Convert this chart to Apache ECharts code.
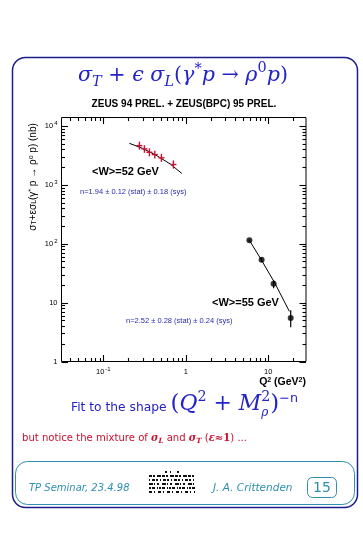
<!DOCTYPE html>
<html><head><meta charset="utf-8">
<script src="https://cdn.jsdelivr.net/npm/echarts@6/dist/echarts.min.js"></script>
<style>html,body{margin:0;padding:0;background:#fff}#c{width:363px;height:535px}</style>
</head><body><div id="c"></div>
<script>
// ---- data ----
const q2W52      = [0.274, 0.315, 0.362, 0.421, 0.506, 0.708];
const sigW52     = [4630, 4070, 3570, 3265, 2870, 2210];
const sigW52Lo   = [3950, 3500, 3050, 2800, 2450, 1880];
const sigW52Hi   = [5400, 4700, 4150, 3800, 3350, 2600];
const fitQ2W52   = [0.207, 0.30, 0.45, 0.65, 0.895];
const fitSigW52  = [5070, 4150, 3100, 2250, 1560];

const q2W55      = [5.9, 8.3, 11.6, 18.7];
const sigW55     = [114, 53.5, 21, 5.5];
const sigW55Lo   = [110, 50, 17.5, 3.8];
const sigW55Hi   = [118, 57, 24, 7.4];
const fitQ2W55   = [5.9, 8.0, 12.0, 18.0];
const fitSigW55  = [114, 57, 21.5, 7.1];

const xMajorTicks = [0.1, 1, 10];
const xTickLabels = ['10{e|-1}', '1', '10'];
const yMajorTicks = [1, 10, 100, 1000, 10000];
const yTickLabels = ['1', '10', '10{e|2}', '10{e|3}', '10{e|4}'];
const xMin = 0.03113, xMax = 28.65, yMin = 1, yMax = 13900;

const BLUE = '#2323c8', RED = '#c8102e', TEAL = '#2f8fae', NAVY = '#1c1c8a';

const chart = echarts.init(document.getElementById('c'), null, {renderer: 'canvas'});

function minorValues(lo, hi) {
  const out = [];
  for (let d = -3; d <= 5; d++) {
    for (let k = 2; k <= 9; k++) {
      const v = k * Math.pow(10, d);
      if (v > lo && v < hi) out.push(v);
    }
  }
  return out;
}

// tick items: [axis(0=x,1=y), value, length]
const tickItems = [];
minorValues(xMin, xMax).forEach(v => tickItems.push([0, v, 3.5]));
xMajorTicks.forEach(v => tickItems.push([0, v, 6.5]));
minorValues(yMin, yMax).forEach(v => tickItems.push([1, v, 3.5]));
yMajorTicks.forEach(v => tickItems.push([1, v, 6.5]));

function renderTick(params, api) {
  const ax = api.value(0), v = api.value(1), L = api.value(2);
  const bl = api.coord([xMin, yMin]);
  const tr = api.coord([xMax, yMax]);
  const st = {stroke: '#000', lineWidth: 1.1};
  if (ax === 0) {
    const x = Math.round(api.coord([v, yMin])[0]) + 0.5;
    return {type: 'group', children: [
      {type: 'line', shape: {x1: x, y1: bl[1], x2: x, y2: bl[1] - L}, style: st},
      {type: 'line', shape: {x1: x, y1: tr[1], x2: x, y2: tr[1] + L}, style: st}]};
  }
  const y = Math.round(api.coord([xMin, v])[1]) + 0.5;
  return {type: 'group', children: [
    {type: 'line', shape: {x1: bl[0], y1: y, x2: bl[0] + L, y2: y}, style: st},
    {type: 'line', shape: {x1: tr[0], y1: y, x2: tr[0] - L, y2: y}, style: st}]};
}

function renderTickLabels(params, api) {
  const children = [];
  const bl = api.coord([xMin, yMin]);
  const rich = {e: {fontSize: 6, verticalAlign: 'top', padding: [0, 0, 5, 1], fontFamily: 'Liberation Sans'}};
  xMajorTicks.forEach((v, i) => {
    const x = api.coord([v, yMin])[0];
    children.push({type: 'text', style: {x: x, y: bl[1] + 10, text: xTickLabels[i], align: 'center', verticalAlign: 'middle',
      font: '7.5px "Liberation Sans", Arial, sans-serif', fill: '#000', rich}});
  });
  yMajorTicks.forEach((v, i) => {
    const y = api.coord([xMin, v])[1];
    children.push({type: 'text', style: {x: bl[0] - 4, y: y, text: yTickLabels[i], align: 'right', verticalAlign: 'middle',
      font: '7.5px "Liberation Sans", Arial, sans-serif', fill: '#000', rich}});
  });
  return {type: 'group', children};
}

function errorRenderer(color, cross) {
  return function (params, api) {
    const x = api.value(0), y = api.value(1), lo = api.value(2), hi = api.value(3);
    const p = api.coord([x, y]), pl = api.coord([x, lo]), ph = api.coord([x, hi]);
    const ch = [{type: 'line', shape: {x1: p[0], y1: pl[1], x2: p[0], y2: ph[1]}, style: {stroke: color, lineWidth: cross ? 1.4 : 1.2}}];
    if (cross) ch.push({type: 'line', shape: {x1: p[0] - 3, y1: p[1], x2: p[0] + 3, y2: p[1]}, style: {stroke: color, lineWidth: 1.4}});
    return {type: 'group', children: ch};
  };
}

const w52Err = q2W52.map((q, i) => [q, sigW52[i], sigW52Lo[i], sigW52Hi[i]]);
const w55Err = q2W55.map((q, i) => [q, sigW55[i], sigW55Lo[i], sigW55Hi[i]]);

const SERIF = '"DejaVu Serif", "Liberation Serif", serif';
const sans = '"Liberation Sans", Arial, sans-serif';
const DVS = '"DejaVu Sans", Verdana, sans-serif';

// ---- horizontal text layout of mixed pieces (sub/superscripts) ----
const mctx = document.createElement('canvas').getContext('2d');
function fontStr(p, S) {
  return (p.st || 'normal') + ' ' + (p.w || 'normal') + ' ' + (S * (p.s || 1)).toFixed(2) + 'px ' + (p.f || SERIF);
}
function layout(x0, baseline, list, targetWidth, align, color) {
  let W = 0;
  list.forEach(p => { mctx.font = fontStr(p, 100); p._w = mctx.measureText(p.t).width; if (p.adv !== false) W += p._w; });
  const S = 100 * targetWidth / W;
  let x = align === 'center' ? x0 - targetWidth / 2 : x0;
  const els = [];
  list.forEach(p => {
    const size = S * (p.s || 1);
    const yb = baseline + (p.dy || 0) * S;
    els.push({type: 'text', x: x, y: yb - 0.3 * size, style: {text: p.t, font: fontStr(p, S), fill: p.c || color,
      align: 'left', verticalAlign: 'middle'}});
    if (p.adv !== false) x += p._w * S / 100;
  });
  return els;
}

const titleEls = layout(183, 82, [
  {t: 'σ', st: 'italic'}, {t: 'T', st: 'italic', s: 0.7, dy: 0.2},
  {t: ' + ', }, {t: 'ϵ', st: 'italic'}, {t: ' σ', st: 'italic'}, {t: 'L', st: 'italic', s: 0.7, dy: 0.2},
  {t: '(', }, {t: 'γ', st: 'italic'}, {t: '*', s: 0.7, dy: -0.4}, {t: 'p', st: 'italic'},
  {t: ' → '}, {t: 'ρ', st: 'italic'}, {t: '0', s: 0.7, dy: -0.45}, {t: 'p', st: 'italic'}, {t: ')'}
], 210, 'center', BLUE);

const fitEls = layout(71, 411, [
  {t: 'Fit to the shape ', f: DVS, s: 0.56},
  {t: '(', s: 1.05}, {t: 'Q', st: 'italic'}, {t: '2', s: 0.65, dy: -0.42}, {t: ' + '}, {t: 'M', st: 'italic'},
  {t: 'ρ', st: 'italic', s: 0.55, dy: 0.25, adv: false}, {t: '2', s: 0.65, dy: -0.42}, {t: ')', s: 1.05},
  {t: '−n', f: DVS, s: 0.58, dy: -0.4}
], 227, 'left', BLUE);

const redEls = layout(22, 441, [
  {t: 'but notice the mixture of ', f: DVS},
  {t: 'σ', st: 'italic', w: 'bold'}, {t: 'L', st: 'italic', w: 'bold', s: 0.7, dy: 0.2},
  {t: ' and ', f: DVS},
  {t: 'σ', st: 'italic', w: 'bold'}, {t: 'T', st: 'italic', w: 'bold', s: 0.7, dy: 0.2},
  {t: ' (', f: DVS}, {t: 'ε', st: 'italic', w: 'bold'}, {t: '≈', w: 'bold'}, {t: '1', w: 'bold'}, {t: ') ...', f: DVS}
], 225, 'left', RED);

// logo approximation (noise pattern)
const logoLines = [];
const logoRows = [[472, [2, 3, 1, 6]], [476, [3, 1, 2, 2, 4, 1]], [480, [1, 2, 3, 1, 2, 2]], [484, [4, 1, 1, 2, 2, 3]], [488, [2, 1, 3, 2, 1, 1]], [492, [3, 2, 1, 3]]];
logoRows.forEach(([y, dash], i) => {
  logoLines.push({type: 'line', shape: {x1: i === 0 ? 165 : 149, y1: y, x2: i === 0 ? 180 : 195, y2: y},
    style: {stroke: '#111', lineWidth: 2.2, lineDash: dash}});
});

chart.setOption({
  animation: false,
  backgroundColor: '#fff',
  grid: {left: 61.5, top: 117.5, width: 244.5, height: 244, show: true, borderColor: '#000', borderWidth: 1, backgroundColor: 'transparent'},
  xAxis: {type: 'log', logBase: 10, min: xMin, max: xMax, axisLine: {show: false}, axisTick: {show: false}, axisLabel: {show: false}, splitLine: {show: false}},
  yAxis: {type: 'log', logBase: 10, min: yMin, max: yMax, axisLine: {show: false}, axisTick: {show: false}, axisLabel: {show: false}, splitLine: {show: false}},
  series: [
    {type: 'custom', name: 'ticks', data: tickItems, renderItem: renderTick, clip: false, z: 10},
    {type: 'custom', name: 'tickLabels', data: [[1, 10]], renderItem: renderTickLabels, clip: false, z: 10},
    {type: 'line', name: 'fit52', data: fitQ2W52.map((q, i) => [q, fitSigW52[i]]), showSymbol: false, symbol: 'none', lineStyle: {color: '#000', width: 1}, z: 2},
    {type: 'line', name: 'fit55', data: fitQ2W55.map((q, i) => [q, fitSigW55[i]]), showSymbol: false, symbol: 'none', lineStyle: {color: '#000', width: 1}, z: 2},
    {type: 'custom', name: 'err52', data: w52Err, renderItem: errorRenderer(RED, true), z: 3},
    {type: 'custom', name: 'err55', data: w55Err, renderItem: errorRenderer('#000', false), z: 3},
    {type: 'scatter', name: 'W55', data: q2W55.map((q, i) => [q, sigW55[i]]), symbol: 'circle', symbolSize: 6, itemStyle: {color: '#000'}, z: 4}
  ],
  graphic: [
    {type: 'rect', shape: {x: 12.5, y: 57.5, width: 345, height: 450, r: 13}, style: {fill: 'none', stroke: NAVY, lineWidth: 1.5}},
    {type: 'rect', shape: {x: 15.5, y: 461.5, width: 339, height: 43, r: 12}, style: {fill: 'none', stroke: TEAL, lineWidth: 1}},
    {type: 'rect', shape: {x: 307.5, y: 477.5, width: 29, height: 20, r: 5}, style: {fill: 'none', stroke: TEAL, lineWidth: 1}},
    {type: 'group', children: titleEls},
    {type: 'text', x: 184, y: 104, style: {text: 'ZEUS 94 PREL. + ZEUS(BPC) 95 PREL.', align: 'center', verticalAlign: 'middle', font: 'bold 10px ' + sans, fill: '#000'}},
    {type: 'text', x: 33, y: 177, rotation: Math.PI / 2, style: {text: '{n|σ}{s|T}{n|+εσ}{s|L}{n|(γ}{p|*}{n| p → ρ}{p|o}{n| p) (nb)}',
      align: 'center', verticalAlign: 'middle', fill: '#000',
      rich: {n: {fontFamily: sans, fontSize: 10, fill: '#000'},
             s: {fontFamily: sans, fontSize: 7, fill: '#000', verticalAlign: 'bottom'},
             p: {fontFamily: sans, fontSize: 7, fill: '#000', verticalAlign: 'top'}}}},
    {type: 'text', x: 306, y: 382, style: {text: '{b|Q}{p|2}{b| (GeV}{p|2}{b|)}', align: 'right', verticalAlign: 'middle', fill: '#000',
      rich: {b: {fontFamily: sans, fontWeight: 'bold', fontSize: 10.5, fill: '#000'},
             p: {fontFamily: sans, fontWeight: 'bold', fontSize: 7, fill: '#000', verticalAlign: 'top'}}}},
    {type: 'text', x: 92, y: 172, style: {text: '<W>=52 GeV', align: 'left', verticalAlign: 'middle', font: 'bold 11px ' + sans, fill: '#000'}},
    {type: 'text', x: 80, y: 192, style: {text: 'n=1.94 ± 0.12 (stat) ± 0.18 (sys)', align: 'left', verticalAlign: 'middle', font: '7.5px ' + sans, fill: '#2a2ab0'}},
    {type: 'text', x: 212, y: 303, style: {text: '<W>=55 GeV', align: 'left', verticalAlign: 'middle', font: 'bold 11px ' + sans, fill: '#000'}},
    {type: 'text', x: 126, y: 321, style: {text: 'n=2.52 ± 0.28 (stat) ± 0.24 (sys)', align: 'left', verticalAlign: 'middle', font: '7.5px ' + sans, fill: '#2a2ab0'}},
    {type: 'group', children: fitEls},
    {type: 'group', children: redEls},
    {type: 'text', x: 29, y: 488, style: {text: 'TP Seminar, 23.4.98', align: 'left', verticalAlign: 'middle', font: 'italic 10px ' + DVS, fill: TEAL}},
    {type: 'text', x: 213, y: 488, style: {text: 'J. A. Crittenden', align: 'left', verticalAlign: 'middle', font: 'italic 10.5px ' + DVS, fill: TEAL}},
    {type: 'text', x: 322, y: 488, style: {text: '15', align: 'center', verticalAlign: 'middle', font: '14px ' + DVS, fill: TEAL}},
    {type: 'group', children: logoLines}
  ]
});
</script></body></html>
